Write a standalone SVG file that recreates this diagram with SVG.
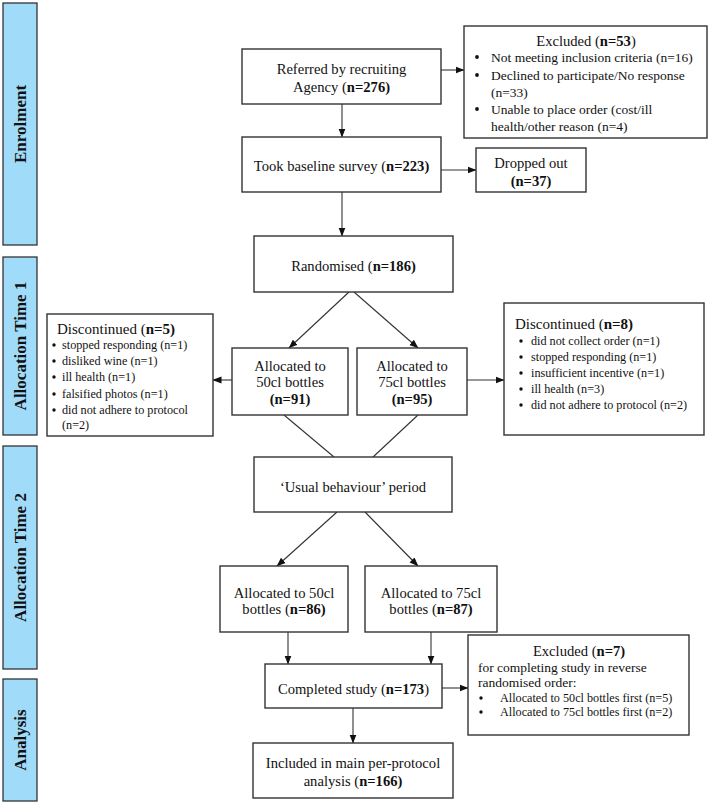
<svg xmlns="http://www.w3.org/2000/svg" width="709" height="803" viewBox="0 0 709 803">
<style>
.bar{fill:#a0dcfa;stroke:#333;stroke-width:1.3}
.box{fill:#fff;stroke:#333;stroke-width:1.4}
.lbl{font-family:"Liberation Serif","Times New Roman",serif;font-weight:bold;font-size:17px;fill:#111;text-anchor:middle}
.t{font-family:"Liberation Serif","Times New Roman",serif;font-size:14.6px;fill:#111}
.h{font-family:"Liberation Serif","Times New Roman",serif;font-size:15px;fill:#111}
.s{font-family:"Liberation Serif","Times New Roman",serif;font-size:13.5px;fill:#111}
.xs{font-family:"Liberation Serif","Times New Roman",serif;font-size:12.2px;fill:#111}
.m{text-anchor:middle}
.b{font-weight:bold}
.c{stroke:#333;stroke-width:1.1;fill:none}
.a{marker-end:url(#ah)}
.dot{fill:#111}
</style>
<defs>
<marker id="ah" markerWidth="9" markerHeight="8" refX="8.5" refY="4" orient="auto" markerUnits="userSpaceOnUse">
<path d="M0,0.5 L9,4 L0,7.5 Z" fill="#111"/>
</marker>
</defs>
<rect width="709" height="803" fill="#fff"/>

<g id="bar-enrolment"><rect class="bar" x="3" y="3" width="34" height="242"/><text class="lbl" transform="translate(26,124) rotate(-90)">Enrolment</text></g>
<g id="bar-alloc1"><rect class="bar" x="3" y="257" width="34" height="178"/><text class="lbl" transform="translate(26,346) rotate(-90)">Allocation Time 1</text></g>
<g id="bar-alloc2"><rect class="bar" x="3" y="446" width="34" height="223"/><text class="lbl" transform="translate(26,557.5) rotate(-90)">Allocation Time 2</text></g>
<g id="bar-analysis"><rect class="bar" x="3" y="679" width="34" height="122"/><text class="lbl" transform="translate(26,740) rotate(-90)">Analysis</text></g>

<g id="connectors">
<line class="c a" x1="441" y1="70" x2="464" y2="70"/>
<line class="c a" x1="342" y1="104" x2="342" y2="137"/>
<line class="c a" x1="441" y1="170" x2="476" y2="170"/>
<line class="c a" x1="342" y1="192" x2="342" y2="236"/>
<line class="c a" x1="349" y1="292" x2="289" y2="348"/>
<line class="c a" x1="354" y1="292" x2="418" y2="348"/>
<line class="c a" x1="232" y1="380" x2="213" y2="380"/>
<line class="c a" x1="467" y1="380" x2="504" y2="380"/>
<line class="c" x1="284" y1="415" x2="334" y2="457"/>
<line class="c" x1="418" y1="415" x2="373" y2="457"/>
<line class="c a" x1="337" y1="512" x2="277" y2="566"/>
<line class="c a" x1="365" y1="512" x2="418" y2="566"/>
<line class="c a" x1="288" y1="632" x2="288" y2="664"/>
<line class="c a" x1="431" y1="632" x2="431" y2="664"/>
<line class="c a" x1="442" y1="688" x2="468" y2="688"/>
<line class="c a" x1="353" y1="708" x2="353" y2="743"/>
</g>

<g id="referred"><rect class="box" x="242" y="49" width="199" height="55"/>
<text class="t m" x="341.5" y="74">Referred by recruiting</text>
<text class="t m" x="341.5" y="92">Agency (<tspan class="b">n=276)</tspan></text></g>

<g id="excluded53"><rect class="box" x="464" y="26" width="243" height="112"/>
<text class="t m" x="586" y="46">Excluded (<tspan class="b">n=53</tspan>)</text>
<circle class="dot" cx="477" cy="57" r="1.9"/><text class="s" x="491" y="62">Not meeting inclusion criteria (n=16)</text>
<circle class="dot" cx="477" cy="75" r="1.9"/><text class="s" x="491" y="80">Declined to participate/No response</text>
<text class="s" x="491" y="97">(n=33)</text>
<circle class="dot" cx="477" cy="109" r="1.9"/><text class="s" x="491" y="114">Unable to place order (cost/ill</text>
<text class="s" x="491" y="131">health/other reason (n=4)</text></g>

<g id="baseline"><rect class="box" x="242" y="137" width="199" height="55"/>
<text class="t m" x="341.5" y="171">Took baseline survey (<tspan class="b">n=223)</tspan></text></g>

<g id="dropped"><rect class="box" x="476" y="148" width="110" height="44"/>
<text class="t m" x="531" y="168">Dropped out</text>
<text class="t m b" x="531" y="186">(n=37)</text></g>

<g id="randomised"><rect class="box" x="254" y="236" width="199" height="56"/>
<text class="t m" x="353.5" y="271">Randomised (<tspan class="b">n=186)</tspan></text></g>

<g id="alloc50a"><rect class="box" x="232" y="348" width="116" height="67"/>
<text class="t m" x="290" y="371">Allocated to</text>
<text class="t m" x="290" y="387">50cl bottles</text>
<text class="t m b" x="290" y="404">(n=91)</text></g>

<g id="alloc75a"><rect class="box" x="357" y="348" width="110" height="67"/>
<text class="t m" x="412" y="371">Allocated to</text>
<text class="t m" x="412" y="387">75cl bottles</text>
<text class="t m b" x="412" y="404">(n=95)</text></g>

<g id="discontinued5"><rect class="box" x="47" y="314" width="166" height="122"/>
<text class="h" x="57" y="334">Discontinued (<tspan class="b">n=5)</tspan></text>
<circle class="dot" cx="54" cy="345" r="1.7"/><text class="xs" x="62" y="349">stopped responding (n=1)</text>
<circle class="dot" cx="54" cy="361" r="1.7"/><text class="xs" x="62" y="365">disliked wine (n=1)</text>
<circle class="dot" cx="54" cy="377" r="1.7"/><text class="xs" x="62" y="381">ill health (n=1)</text>
<circle class="dot" cx="54" cy="394" r="1.7"/><text class="xs" x="62" y="398">falsified photos (n=1)</text>
<circle class="dot" cx="54" cy="410" r="1.7"/><text class="xs" x="62" y="414">did not adhere to protocol</text>
<text class="xs" x="62" y="429">(n=2)</text></g>

<g id="discontinued8"><rect class="box" x="504" y="303" width="200" height="132"/>
<text class="h" x="515" y="329">Discontinued (<tspan class="b">n=8)</tspan></text>
<circle class="dot" cx="521" cy="341" r="1.7"/><text class="xs" x="531" y="345">did not collect order (n=1)</text>
<circle class="dot" cx="521" cy="357" r="1.7"/><text class="xs" x="531" y="361">stopped responding (n=1)</text>
<circle class="dot" cx="521" cy="373" r="1.7"/><text class="xs" x="531" y="377">insufficient incentive (n=1)</text>
<circle class="dot" cx="521" cy="389" r="1.7"/><text class="xs" x="531" y="393">ill health (n=3)</text>
<circle class="dot" cx="521" cy="405" r="1.7"/><text class="xs" x="531" y="409">did not adhere to protocol (n=2)</text></g>

<g id="usual"><rect class="box" x="254" y="457" width="198" height="55"/>
<text class="t m" x="353" y="492">‘Usual behaviour’ period</text></g>

<g id="alloc50b"><rect class="box" x="220" y="566" width="128" height="66"/>
<text class="t m" x="284" y="598">Allocated to 50cl</text>
<text class="t m" x="284" y="614">bottles (<tspan class="b">n=86)</tspan></text></g>

<g id="alloc75b"><rect class="box" x="365" y="566" width="132" height="66"/>
<text class="t m" x="431" y="598">Allocated to 75cl</text>
<text class="t m" x="431" y="614">bottles (<tspan class="b">n=87)</tspan></text></g>

<g id="completed"><rect class="box" x="265" y="664" width="177" height="44"/>
<text class="t m" x="353.5" y="694">Completed study (<tspan class="b">n=173</tspan>)</text></g>

<g id="excluded7"><rect class="box" x="468" y="635" width="221" height="100"/>
<text class="t m" x="579" y="656">Excluded (<tspan class="b">n=7)</tspan></text>
<text class="s" x="478" y="672">for completing study in reverse</text>
<text class="s" x="478" y="687">randomised order:</text>
<circle class="dot" cx="481" cy="698" r="1.7"/><text class="xs" x="500" y="702">Allocated to 50cl bottles first (n=5)</text>
<circle class="dot" cx="481" cy="712" r="1.7"/><text class="xs" x="500" y="716">Allocated to 75cl bottles first (n=2)</text></g>

<g id="included"><rect class="box" x="253" y="743" width="200" height="55"/>
<text class="t m" x="353" y="768">Included in main per-protocol</text>
<text class="t m" x="353" y="786">analysis (<tspan class="b">n=166)</tspan></text></g>
</svg>
